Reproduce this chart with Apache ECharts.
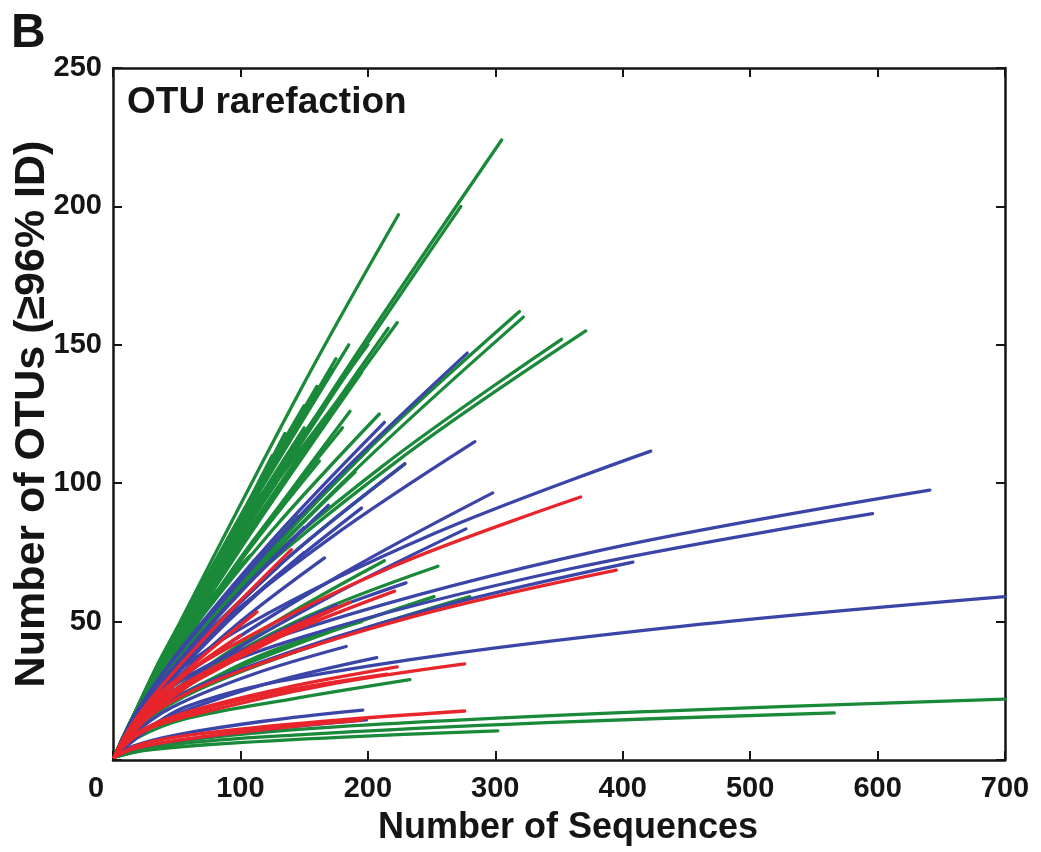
<!DOCTYPE html>
<html><head><meta charset="utf-8">
<script src="https://cdn.jsdelivr.net/npm/echarts/dist/echarts.min.js"></script>
<style>html,body{margin:0;padding:0;background:#fff}#c{width:1041px;height:852px}</style>
</head><body><div id="c"></div>
<script>
// Axis ticks
const xTicks = [0, 100, 200, 300, 400, 500, 600, 700];
const yTicks = [0, 50, 100, 150, 200, 250];

// Rarefaction curves: [sequences, OTUs]
const greenCurves = [
  [[1,1],[24,23],[76,64],[183,141],[305,224]],
  [[1,1],[22,21],[68,57],[164,126],[273,200]],
  [[1,1],[10,10],[44,42],[151,137],[224,197]],
  [[1,1],[18,17],[56,47],[134,101],[223,158]],
  [[1,1],[17,16],[54,46],[130,99],[216,156]],
  [[1,1],[26,22],[80,53],[191,108],[319,162]],
  [[1,1],[26,21],[81,53],[193,106],[322,160]],
  [[1,1],[30,26],[93,59],[223,108],[371,155]],
  [[1,1],[28,25],[88,58],[211,106],[352,152]],
  [[1,1],[15,14],[47,37],[112,80],[186,126]],
  [[1,1],[17,16],[52,41],[125,83],[209,125]],
  [[1,1],[14,14],[43,41],[103,89],[172,141]],
  [[1,1],[14,14],[45,36],[108,78],[180,120]],
  [[1,1],[13,12],[41,32],[97,70],[162,108]],
  [[1,1],[18,16],[57,38],[137,73],[229,107]],
  [[1,1],[20,15],[64,30],[153,52],[255,70]],
  [[1,1],[22,13],[70,26],[168,43],[280,59]],
  [[1,1],[19,8],[58,15],[140,22],[233,29]],
  [[1,1],[56,7],[175,12],[420,17.5],[700,22]],
  [[1,1],[45,5.5],[142,9],[340,13.5],[566,17]],
  [[1,1],[24,3.4],[76,5.6],[181,8.3],[302,10.5]],
  [[1,1],[12,12],[38,34],[90,76],[150,120]],
  [[1,1],[11,11],[35,32],[84,70],[140,110]],
  [[1,1],[16,15],[49,40],[117,88],[195,140]],
  [[1,1],[13,13],[41,37],[99,82],[165,128]],
  [[1,1],[10,10],[32,30],[77,64],[128,100]],
  [[1,1],[10,10],[30,28],[72,59],[120,92]],
  [[1,1],[9,9],[28,26],[66,55],[110,85]],
  [[1,1],[8,8],[25,24],[60,51],[100,80]],
  [[1,1],[16,15],[50,36],[120,74],[200,112]],
  [[1,1],[15,14],[48,33],[114,69],[190,104]],
  [[1,1],[17,12],[53,27],[128,50],[213,72]],
  [[1,1],[20,13],[63,26],[151,43],[252,59]],
  [[1,1],[9,9],[27,25],[65,52],[108,74]],
  [[1,1],[12,11],[36,29],[87,58],[145,88]],
  [[1,1],[16,11],[49,22],[117,38],[195,50]],
  [[1,1],[13,13],[40,39],[96,84],[160,135]],
  [[1,1],[14,14],[44,42],[105,90],[175,145]],
  [[1,1],[15,15],[46,43],[111,94],[185,150]],
  [[1,1],[11,11],[34,32],[81,71],[135,118]],
  [[1,1],[10,10],[31,30],[75,66],[125,110]],
  [[1,1],[12,12],[38,36],[90,80],[150,128]],
  [[1,1],[16,16],[50,46],[120,98],[200,150]],
  [[1,1],[15,15],[48,43],[114,91],[190,138]],
  [[1,1],[9,9],[29,27],[69,58],[115,96]]
];
const blueCurves = [
  [[1,1],[22,20],[70,49],[167,98],[278,147]],
  [[1,1],[17,16],[53,40],[128,81],[213,122]],
  [[1,1],[23,20],[71,44],[170,80],[284,115]],
  [[1,1],[34,25],[106,49],[253,82],[422,111.6]],
  [[1,1],[51,28],[160,49],[385,76],[641,97.5]],
  [[1,1],[48,25],[149,44.5],[358,69],[596,89]],
  [[1,1],[24,16.5],[75,37],[179,67],[298,96.5]],
  [[1,1],[22,14],[69,32],[166,58],[277,83.5]],
  [[1,1],[33,18],[102,33],[245,54],[408,71.5]],
  [[1,1],[56,19],[175,32],[420,47],[700,59]],
  [[1,1],[16,5],[49,9],[118,14],[196,18]],
  [[1,1],[16,4],[50,7],[119,11],[199,14.5]],
  [[1,1],[18,16],[57,38],[137,73],[229,107]],
  [[1,1],[14,12],[42,30],[101,61],[169,92]],
  [[1,1],[16,14],[49,32],[117,62],[195,91]],
  [[1,1],[13,11],[42,26],[100,50],[166,73]],
  [[1,1],[17,9],[52,17],[124,28],[207,37]],
  [[1,1],[12,11],[38,28],[90,56],[150,84]],
  [[1,1],[10,9],[33,24],[78,47],[130,70]],
  [[1,1],[9,8],[30,21],[71,42],[118,62]],
  [[1,1],[18,12],[58,27],[138,48],[230,64]],
  [[1,1],[15,9],[46,19],[110,31],[183,41]],
  [[1,1],[12,10],[38,25],[90,50],[150,75]],
  [[1,1],[14,10],[44,22],[105,40],[175,56]]
];
const redCurves = [
  [[1,1],[29,21],[92,41],[220,70],[367,95]],
  [[1,1],[32,17],[99,32],[237,52],[395,68.6]],
  [[1,1],[22,10],[69,17],[166,27],[276,34.7]],
  [[1,1],[18,9.5],[56,17],[134,26],[223,33.6]],
  [[1,1],[22,5.7],[69,9.5],[166,14],[276,17.7]],
  [[1,1],[9,8],[28,19],[68,36.5],[113,53.5]],
  [[1,1],[18,13],[55,27],[133,45],[221,61]],
  [[1,1],[15,12],[47,25],[112,41],[186,57]],
  [[1,1],[12,10],[38,21],[91,35],[151,49]],
  [[1,1],[11,10],[35,25],[84,50],[140,76]],
  [[1,1],[16,4],[49,7],[118,11],[196,14.5]],
  [[1,1],[17,8.5],[54,16],[129,24.5],[215,31]],
  [[1,1],[8,7],[25,17],[60,32],[100,45]],
  [[1,1],[14,10],[44,22],[105,40],[175,55]]
];

const GREEN = '#1a8a3a', BLUE = '#3b45a8', RED = '#e8252b', INK = '#151515';
const SANS = '"Liberation Sans", Arial, sans-serif';

const series = [];
function addCurves(list, color) {
  list.forEach(function (pts) {
    series.push({
      type: 'line', xAxisIndex: 0, yAxisIndex: 0, data: pts,
      showSymbol: false, symbol: 'none', smooth: 0.35, silent: true,
      lineStyle: { color: color, width: 3.3, cap: 'round' }
    });
  });
}
addCurves(greenCurves, GREEN);
addCurves(blueCurves, BLUE);
addCurves(redCurves, RED);

const axLine = { show: true, onZero: false, lineStyle: { color: INK, width: 2.5 } };
const axTick = { show: true, inside: true, length: 9, lineStyle: { color: INK, width: 2 } };
const lblStyle = { fontFamily: SANS, fontWeight: 'bold', fontSize: 29, color: INK };

const chart = echarts.init(document.getElementById('c'), null, { renderer: 'canvas' });
chart.setOption({
  animation: false,
  backgroundColor: '#fff',
  grid: { left: 113, right: 36, top: 68, bottom: 92, containLabel: false, outerBoundsMode: 'none' },
  graphic: [
    { type: 'text', left: 11, top: 10, style: { text: 'B', font: 'bold 48px ' + SANS, fill: INK } },
    { type: 'text', left: 127, top: 84, style: { text: 'OTU rarefaction', font: 'bold 37px ' + SANS, fill: INK } }
  ],
  xAxis: [
    {
      type: 'value', position: 'bottom', min: xTicks[0], max: xTicks[xTicks.length - 1], interval: 100,
      axisLine: axLine, axisTick: axTick, splitLine: { show: false },
      axisLabel: Object.assign({}, lblStyle, {
        margin: 14,
        formatter: function (v) { return v === 0 ? '{z|0}' : String(v); },
        rich: { z: Object.assign({}, lblStyle, { padding: [0, 34, 0, 0] }) }
      }),
      name: 'Number of Sequences', nameLocation: 'middle', nameGap: 50, nameMoveOverlap: false,
      nameTextStyle: { fontFamily: SANS, fontWeight: 'bold', fontSize: 36, color: INK, verticalAlign: 'top', padding: [0, 0, 0, 18] }
    },
    {
      type: 'value', position: 'top', min: xTicks[0], max: xTicks[xTicks.length - 1], interval: 100,
      axisLine: axLine, axisTick: axTick, splitLine: { show: false }, axisLabel: { show: false }
    }
  ],
  yAxis: [
    {
      type: 'value', position: 'left', min: yTicks[0], max: yTicks[yTicks.length - 1], interval: 50,
      axisLine: axLine, axisTick: axTick, splitLine: { show: false },
      axisLabel: Object.assign({}, lblStyle, {
        margin: 11,
        formatter: function (v) { return v === 0 ? '' : String(v); }
      }),
      name: 'Number of OTUs (\u226596% ID)', nameLocation: 'middle', nameGap: 102, nameRotate: 90, nameMoveOverlap: false,
      nameTextStyle: { fontFamily: SANS, fontWeight: 'bold', fontSize: 43, color: INK, verticalAlign: 'top' }
    },
    {
      type: 'value', position: 'right', min: yTicks[0], max: yTicks[yTicks.length - 1], interval: 50,
      axisLine: axLine, axisTick: axTick, splitLine: { show: false }, axisLabel: { show: false }
    }
  ],
  series: series
});
</script>
</body></html>
